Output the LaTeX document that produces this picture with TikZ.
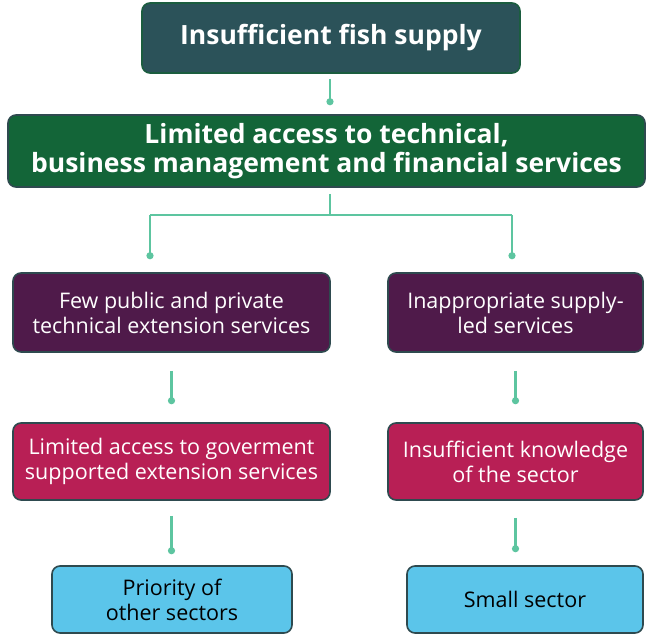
\documentclass[tikz,border=0pt]{standalone}
\usepackage{fontspec}
\setmainfont{Open Sans}
\usetikzlibrary{arrows.meta}
\definecolor{cTop}{HTML}{2B5259}
\definecolor{cMid}{HTML}{136538}
\definecolor{cPur}{HTML}{4F1A4A}
\definecolor{cPink}{HTML}{B81F55}
\definecolor{cBlue}{HTML}{5BC5EA}
\definecolor{cEdge}{HTML}{2E4A4F}
\definecolor{cLine}{HTML}{5DC5A0}
\tikzset{
  box/.style={draw=cEdge, line width=1.6pt, rounded corners=8pt, align=center, inner sep=2pt},
  head/.style={box, text=white, font=\fontsize{26.5}{29}\selectfont\bfseries},
  body/.style={box, text=white, font=\fontsize{21.5}{25}\selectfont},
  leaf/.style={box, fill=cBlue, text=black, font=\fontsize{21.5}{25}\selectfont},
  conn/.style={draw=cLine, line width=2.6pt},
  dotend/.style={conn, -{Circle[length=7pt,width=7pt]}}
}
\begin{document}
\begin{tikzpicture}[x=1pt,y=-1pt]
\useasboundingbox (0,0) rectangle (646,638);
\node[head, fill=cTop, draw=cMid!70!cEdge, minimum width=378pt, minimum height=70pt] (top) at (331,38) {Insufficient fish supply};
\node[head, fill=cMid, minimum width=637pt, minimum height=72pt] (mid) at (326.5,151) {Limited access to technical,\\business management and financial services};
\node[body, fill=cPur, minimum width=317pt, minimum height=79pt] (pl) at (171.5,312.5) {Few public and private\\technical extension services};
\node[body, fill=cPur, minimum width=255pt, minimum height=79pt] (pr) at (515.5,312.5) {Inappropriate supply-\\led services};
\node[body, fill=cPink, minimum width=317pt, minimum height=77pt] (kl) at (171.5,461.5) {Limited access to goverment\\supported extension services};
\node[body, fill=cPink, minimum width=255pt, minimum height=77pt] (kr) at (515.5,461.5) {Insufficient knowledge\\of the sector};
\node[leaf, minimum width=240pt, minimum height=67pt] (bl) at (172,599.5) {Priority of\\other sectors};
\node[leaf, minimum width=236pt, minimum height=67pt] (br) at (525,599.5) {Small sector};
\coordinate (j) at (330,215);
\coordinate (jl) at (150,215);
\coordinate (jr) at (512,215);
\draw[dotend] ([yshift=-5pt]top.south -| j) -- ([yshift=9pt]mid.north -| j);
\draw[conn] ([yshift=-6pt]mid.south -| j) -- (j);
\draw[conn] (jl) -- (jr);
\draw[dotend] (jl) -- ([yshift=13pt]pl.north -| jl);
\draw[dotend] (jr) -- ([yshift=13pt]pr.north -| jr);
\draw[dotend] ([yshift=-18pt]pl.south -| kl) -- ([yshift=18pt]kl.north);
\draw[dotend] ([yshift=-18pt]pr.south -| kr) -- ([yshift=18pt]kr.north);
\draw[dotend] ([yshift=-15pt]kl.south) -- ([yshift=11pt]bl.north -| kl);
\draw[dotend] ([yshift=-17pt]kr.south) -- ([yshift=13pt]br.north -| kr);
\end{tikzpicture}
\end{document}
